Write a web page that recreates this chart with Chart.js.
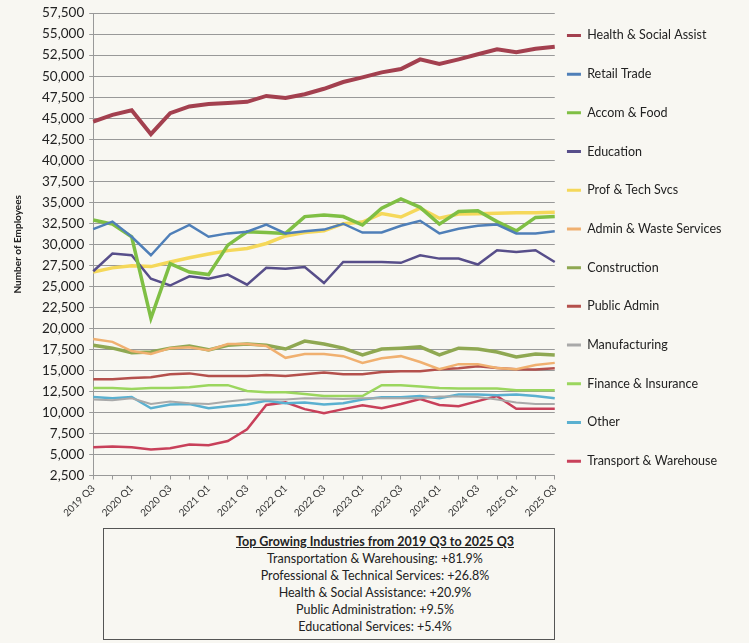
<!DOCTYPE html>
<html>
<head>
<meta charset="utf-8">
<script src="https://cdn.jsdelivr.net/npm/chart.js@4"></script>
<style>
  body { margin: 0; background: #f8f7f2; font-family: Lato, "Open Sans", sans-serif; }
  #wrap { position: relative; width: 749px; height: 643px; }
  #chartBox { position: absolute; left: 0; top: 0; width: 749px; height: 524px; }
  #notes {
    position: absolute; left: 103px; top: 528px; width: 452px; height: 112px;
    border: 1px solid #555; box-sizing: border-box;
    padding-left: 92px; padding-top: 4px;
    text-align: center; color: #222; font-size: 12.5px; line-height: 17px;
  }
  #notes .head { font-weight: bold; text-decoration: underline; }
</style>
</head>
<body>
<div id="wrap">
  <div id="chartBox"><canvas id="chart"></canvas></div>
  <div id="notes">
    <div class="head">Top Growing Industries from 2019 Q3 to 2025 Q3</div>
    <div>Transportation &amp; Warehousing: +81.9%</div>
    <div>Professional &amp; Technical Services: +26.8%</div>
    <div>Health &amp; Social Assistance: +20.9%</div>
    <div>Public Administration: +9.5%</div>
    <div>Educational Services: +5.4%</div>
  </div>
</div>
<script>
// quarters 2019 Q3 .. 2025 Q3
const quarters = [
  "2019 Q3", "2019 Q4", "2020 Q1", "2020 Q2", "2020 Q3", "2020 Q4",
  "2021 Q1", "2021 Q2", "2021 Q3", "2021 Q4", "2022 Q1", "2022 Q2",
  "2022 Q3", "2022 Q4", "2023 Q1", "2023 Q2", "2023 Q3", "2023 Q4",
  "2024 Q1", "2024 Q2", "2024 Q3", "2024 Q4", "2025 Q1", "2025 Q2", "2025 Q3"
];

const health = [44600, 45400, 45950, 43100, 45600, 46400, 46700, 46800, 46950, 47650, 47400, 47850, 48500, 49300, 49850, 50450, 50850, 52000, 51450, 52000, 52600, 53200, 52850, 53250, 53500];
const retail = [31800, 32700, 30900, 28700, 31200, 32300, 30900, 31300, 31500, 32350, 31300, 31550, 31750, 32450, 31400, 31400, 32200, 32800, 31300, 31850, 32200, 32350, 31300, 31300, 31550];
const accomFood = [32900, 32400, 30900, 21200, 27700, 26700, 26400, 29900, 31500, 31400, 31300, 33300, 33500, 33300, 32300, 34300, 35400, 34400, 32400, 33900, 34000, 32700, 31600, 33200, 33300];
const education = [26800, 28900, 28700, 25900, 25100, 26200, 25900, 26400, 25200, 27200, 27100, 27300, 25400, 27900, 27900, 27900, 27800, 28700, 28300, 28300, 27600, 29300, 29100, 29300, 27900];
const profTech = [26700, 27200, 27450, 27350, 27900, 28400, 28850, 29250, 29500, 30100, 31000, 31400, 31600, 32450, 32650, 33650, 33250, 34300, 33100, 33600, 33650, 33700, 33750, 33750, 33800];
const adminWaste = [18750, 18400, 17300, 16950, 17650, 17750, 17400, 18150, 18150, 17900, 16500, 16950, 16950, 16700, 15900, 16450, 16700, 16000, 15150, 15750, 15750, 15300, 15150, 15650, 15900];
const construction = [18000, 17650, 17100, 17200, 17650, 17900, 17450, 18000, 18150, 18000, 17550, 18500, 18150, 17650, 16850, 17550, 17650, 17800, 16850, 17650, 17550, 17200, 16600, 16950, 16850];
const publicAdmin = [13950, 13950, 14100, 14200, 14550, 14650, 14350, 14350, 14350, 14450, 14350, 14550, 14750, 14550, 14550, 14800, 14900, 14900, 15150, 15250, 15500, 15300, 15150, 15100, 15250];
const manufacturing = [11550, 11450, 11700, 11000, 11300, 11100, 11000, 11300, 11550, 11550, 11550, 11700, 11650, 11600, 11700, 11700, 11700, 11700, 11900, 11900, 11850, 11550, 11200, 11000, 11000];
const finance = [12900, 12900, 12800, 12900, 12900, 13000, 13250, 13250, 12550, 12400, 12400, 12200, 11950, 11950, 11950, 13250, 13250, 13100, 12900, 12850, 12850, 12850, 12650, 12650, 12650];
const other = [11850, 11700, 11850, 10500, 10950, 11000, 10500, 10750, 10950, 11400, 11100, 11200, 10950, 11100, 11550, 11800, 11800, 11950, 11700, 12150, 12150, 12050, 12150, 11950, 11700];
const transport = [5850, 5950, 5850, 5600, 5750, 6200, 6100, 6600, 8000, 10900, 11200, 10400, 9900, 10400, 10850, 10500, 11000, 11600, 10900, 10750, 11350, 11950, 10450, 10450, 10450];

const yTicks = { min: 2500, max: 57500, step: 2500 };

function line(label, data, color, width) {
  return {
    label: label,
    data: data,
    borderColor: color,
    backgroundColor: color,
    borderWidth: width,
    pointRadius: 0,
    tension: 0,
  };
}

// nudge the legend closer to the plot and up a bit, like the original
const legendShift = {
  id: "legendShift",
  afterLayout(chart) {
    chart.legend.left -= 14;
    chart.legend.right -= 14;
    chart.legend.top -= 8;
    chart.legend.bottom -= 8;
  },
};

const ctx = document.getElementById("chart").getContext("2d");
new Chart(ctx, {
  type: "line",
  data: {
    labels: quarters,
    datasets: [
      line("Health & Social Assist", health, "#a3404f", 4),
      line("Retail Trade", retail, "#4f7fb8", 2.5),
      line("Accom & Food", accomFood, "#7fbf44", 3.5),
      line("Education", education, "#574e8a", 2.5),
      line("Prof & Tech Svcs", profTech, "#f5d85a", 3.5),
      line("Admin & Waste Services", adminWaste, "#f0b070", 2.5),
      line("Construction", construction, "#8fa852", 3.5),
      line("Public Admin", publicAdmin, "#b4504c", 2.5),
      line("Manufacturing", manufacturing, "#a9a9a9", 2),
      line("Finance & Insurance", finance, "#9bd65e", 2.5),
      line("Other", other, "#5ab0d0", 2.5),
      line("Transport & Warehouse", transport, "#c8405a", 2.5),
    ],
  },
  plugins: [legendShift],
  options: {
    responsive: true,
    maintainAspectRatio: false,
    animation: false,
    layout: { padding: { top: 11, left: 8, right: 12, bottom: 2 } },
    scales: {
      x: {
        offset: false,
        grid: { drawOnChartArea: false, tickLength: 4, color: "#999" },
        border: { color: "#999" },
        ticks: {
          autoSkip: false,
          maxRotation: 45,
          minRotation: 45,
          color: "#333",
          font: { family: "Lato", size: 10 },
          callback: function (value, index) {
            return index % 2 === 0 ? quarters[index] : "";
          },
        },
      },
      y: {
        min: yTicks.min,
        max: yTicks.max,
        grid: { color: "#999", tickLength: 4 },
        border: { color: "#999" },
        ticks: {
          stepSize: yTicks.step,
          padding: 5,
          color: "#222",
          font: { family: "Lato", size: 13.5 },
        },
        title: {
          display: true,
          text: "Number of Employees",
          color: "#222",
          padding: { top: 4, bottom: 13 },
          font: { family: "Lato", size: 10, weight: "bold" },
        },
      },
    },
    plugins: {
      tooltip: { enabled: false },
      legend: {
        display: true,
        position: "right",
        align: "start",
        labels: {
          boxWidth: 14,
          boxHeight: 3,
          padding: 26.2,
          color: "#222",
          font: { family: "Lato", size: 12.5 },
          generateLabels: (chart) =>
            Chart.defaults.plugins.legend.labels
              .generateLabels(chart)
              .map((l) => ({ ...l, fillStyle: l.strokeStyle, lineWidth: 0 })),
        },
      },
    },
  },
});
</script>
</body>
</html>
